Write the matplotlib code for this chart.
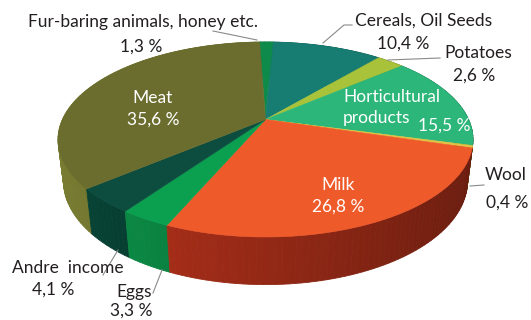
import numpy as np
import matplotlib
matplotlib.use("Agg")
import matplotlib.pyplot as plt
from matplotlib.patches import Polygon

# shares of income, clockwise from the top
labels = ["Fur-baring animals, honey etc.", "Cereals, Oil Seeds", "Potatoes",
          "Horticultural products", "Wool", "Milk", "Eggs", "Andre  income", "Meat"]
shares = [1.3, 10.4, 2.6, 15.5, 0.4, 26.8, 3.3, 4.1, 35.6]
pct_text = ["1,3 %", "10,4 %", "2,6 %", "15,5 %", "0,4 %", "26,8 %", "3,3 %", "4,1 %", "35,6 %"]

top_colors = ["#0e8a4a", "#177d72", "#a8c23a", "#2cb67a", "#e2c244",
              "#ef5a2a", "#0aa050", "#0d4d3f", "#6b6d2e"]
side_colors = [(14, 130, 70), (20, 110, 100), (160, 180, 50), (40, 170, 110), (200, 160, 50),
               (190, 52, 28), (12, 150, 75), (8, 70, 56), (122, 126, 50)]

plt.rcParams["font.family"] = ["Lato", "DejaVu Sans"]

# simple perspective camera looking down at the disk
elev = np.radians(28)
dist = 4.3
depth = 0.24
start = np.radians(92)


def project(theta, y):
    x = np.cos(theta)
    z = np.sin(theta)
    zc = z * np.cos(elev) - y * np.sin(elev) + dist
    yc = y * np.cos(elev) + z * np.sin(elev)
    return x / zc, yc / zc


# fit the top rim into the pixel box
t = np.linspace(0, 2 * np.pi, 721)
px, py = project(t, 0.0)
x0, x1, y0, y1 = 58, 473, 42, 237
sx = (x1 - x0) / (px.max() - px.min())
sy = (y1 - y0) / (py.max() - py.min())


def to_px(theta, y=0.0):
    a, b = project(theta, y)
    return x0 + (a - px.min()) * sx, y1 - (b - py.min()) * sy


cx = x0 + (0 - px.min()) * sx
cy = y1 - (0 - py.min()) * sy

fig = plt.figure(figsize=(5.31, 3.2), dpi=100)
ax = fig.add_axes([0, 0, 1, 1])
ax.set_xlim(0, 531)
ax.set_ylim(320, 0)
ax.axis("off")

bounds = start - np.radians(np.cumsum([0] + shares) * 3.6)

# side walls, far pieces first
quads = []
for i in range(len(shares)):
    a0, a1 = bounds[i], bounds[i + 1]
    n = max(3, int(abs(a0 - a1) / np.radians(1.5)))
    ts = np.linspace(a0, a1, n + 1)
    for k in range(n):
        ta, tb = ts[k], ts[k + 1]
        xa, ya = to_px(np.array([ta, tb]), 0.0)
        xb, yb = to_px(np.array([tb, ta]), -depth)
        mid = (ta + tb) / 2
        f = 1 - 0.45 * (1 + np.cos(mid)) / 2
        c = np.clip(np.array(side_colors[i]) / 255 * f, 0, 1)
        quads.append((np.sin(mid), np.column_stack([np.r_[xa, xb], np.r_[ya, yb]]), c))
quads.sort(key=lambda q: -q[0])
for _, pts, c in quads:
    ax.add_patch(Polygon(pts, closed=True, facecolor=c, edgecolor=c, lw=0.6))

# top face
for i in range(len(shares)):
    ts = np.linspace(bounds[i], bounds[i + 1], 80)
    xs, ys = to_px(ts, 0.0)
    pts = np.column_stack([np.r_[cx, xs], np.r_[cy, ys]])
    ax.add_patch(Polygon(pts, closed=True, facecolor=top_colors[i],
                         edgecolor=top_colors[i], lw=0.4))

dark = "#231f20"
fs = 12.5
lc = "#8a8a8a"

# leader lines
ax.plot([213, 257], [31, 40], color=lc, lw=0.8)
ax.plot([352, 344, 323], [25, 25, 43], color=lc, lw=0.8)
ax.plot([440, 388], [58, 60], color=lc, lw=0.8)
ax.plot([484, 470], [185, 186], color=lc, lw=0.8)
ax.plot([103, 118], [275, 250], color=lc, lw=0.8)
ax.plot([153, 162], [293, 270], color=lc, lw=0.8)

ax.text(143, 22, labels[0], ha="center", va="center", fontsize=fs, color=dark)
ax.text(141, 47, pct_text[0], ha="center", va="center", fontsize=fs, color=dark)
ax.text(355, 21, labels[1], ha="left", va="center", fontsize=fs, color=dark)
ax.text(403, 44, pct_text[1], ha="center", va="center", fontsize=fs, color=dark)
ax.text(444, 53, labels[2], ha="left", va="center", fontsize=fs, color=dark)
ax.text(474, 76, pct_text[2], ha="center", va="center", fontsize=fs, color=dark)
ax.text(343, 97, "Horticultural", ha="left", va="center", fontsize=fs, color="white")
ax.text(343, 118, "products", ha="left", va="center", fontsize=fs, color="white")
ax.text(444, 126, pct_text[3], ha="center", va="center", fontsize=fs, color="white")
ax.text(485, 175, labels[4], ha="left", va="center", fontsize=fs, color=dark)
ax.text(507, 203, pct_text[4], ha="center", va="center", fontsize=fs, color=dark)
ax.text(338, 185, labels[5], ha="center", va="center", fontsize=fs, color="white")
ax.text(338, 207, pct_text[5], ha="center", va="center", fontsize=fs, color="white")
ax.text(153, 98, labels[8], ha="center", va="center", fontsize=fs, color="white")
ax.text(153, 120, pct_text[8], ha="center", va="center", fontsize=fs, color="white")
ax.text(68, 268, labels[7], ha="center", va="center", fontsize=fs, color=dark)
ax.text(53, 290, pct_text[7], ha="center", va="center", fontsize=fs, color=dark)
ax.text(134, 292, labels[6], ha="center", va="center", fontsize=fs, color=dark)
ax.text(131, 311, pct_text[6], ha="center", va="center", fontsize=fs, color=dark)

fig.savefig("out.png", dpi=100)
